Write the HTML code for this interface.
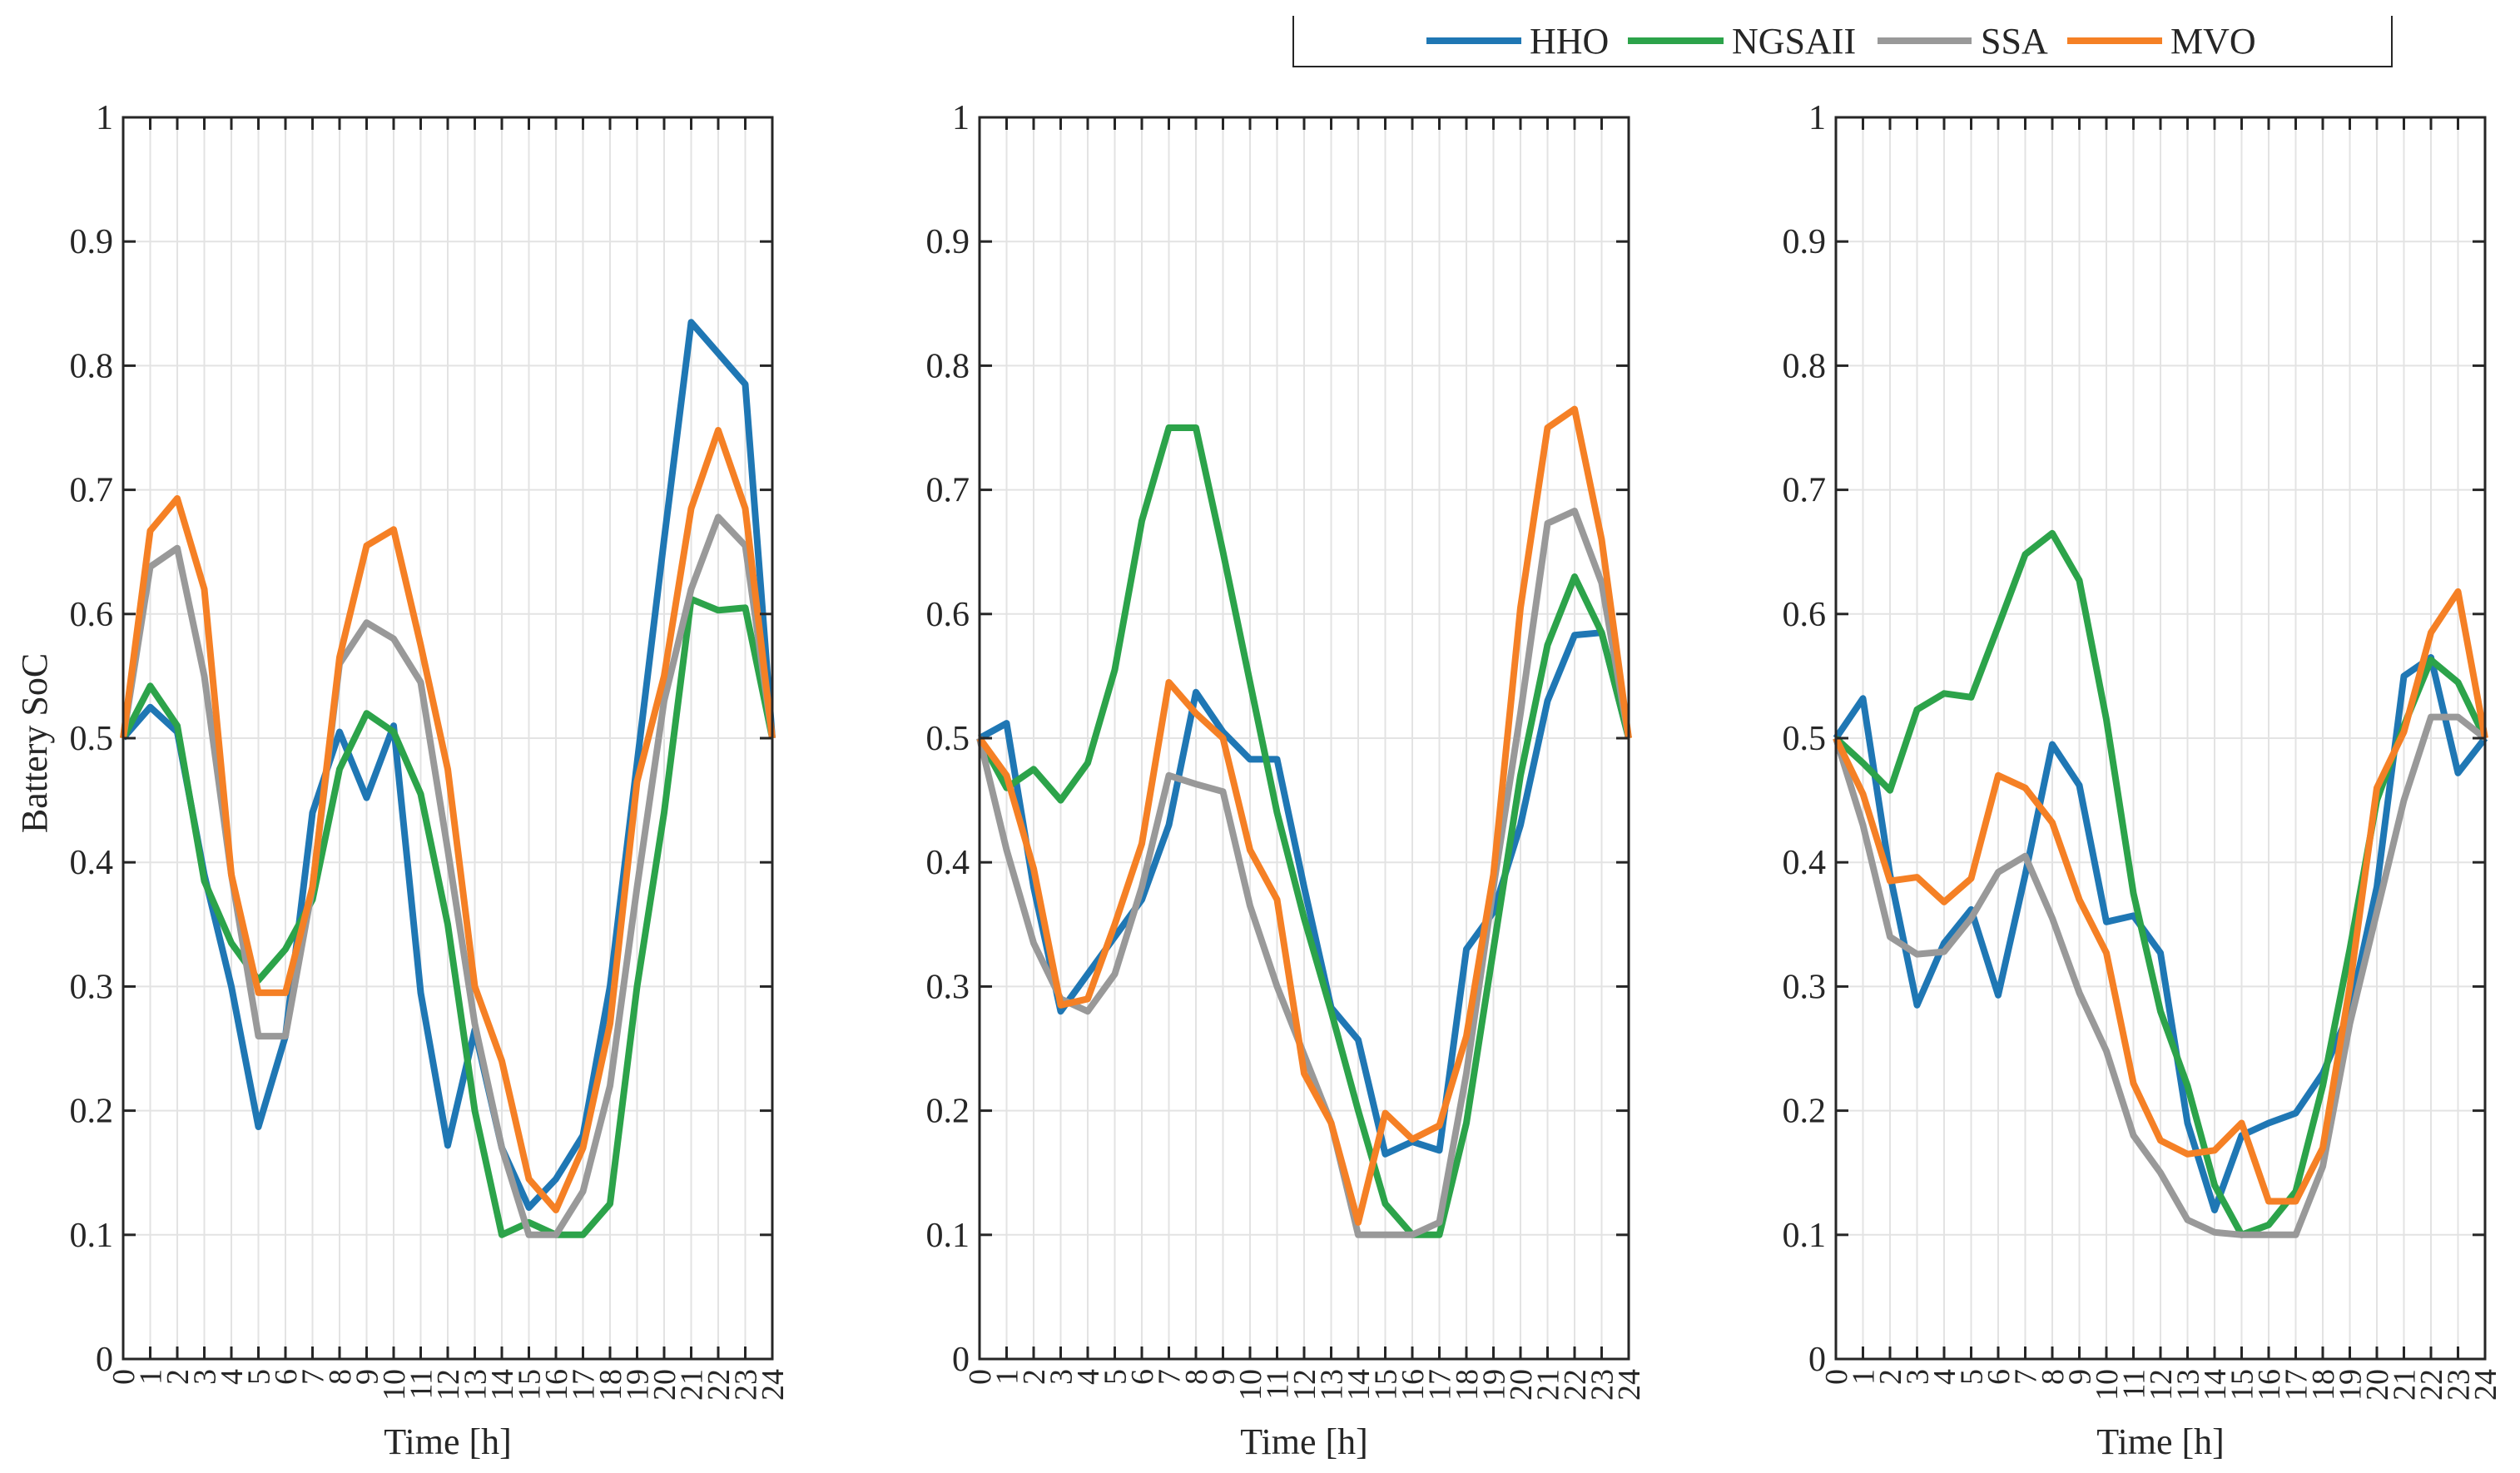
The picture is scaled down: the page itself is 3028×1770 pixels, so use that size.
<!DOCTYPE html>
<html><head><meta charset="utf-8"><style>
html,body{margin:0;padding:0;background:#fff;}
svg{display:block;font-family:"Liberation Serif",serif;}
</style></head><body>
<svg id="chart" width="3028" height="1770" viewBox="0 0 3028 1770" xmlns="http://www.w3.org/2000/svg">
<g>
<path d="M1554 19 L1554 80 L2874 80 L2874 19" fill="none" stroke="#262626" stroke-width="2"/>
<line x1="1714" y1="49" x2="1828" y2="49" stroke="#1f77b4" stroke-width="8"/>
<text x="1838" y="64" font-size="44" fill="#262626">HHO</text>
<line x1="1956" y1="49" x2="2071" y2="49" stroke="#2ca34a" stroke-width="8"/>
<text x="2081" y="64" font-size="44" fill="#262626">NGSAII</text>
<line x1="2256" y1="49" x2="2369" y2="49" stroke="#999999" stroke-width="8"/>
<text x="2380" y="64" font-size="44" fill="#262626">SSA</text>
<line x1="2484" y1="49" x2="2598" y2="49" stroke="#f58025" stroke-width="8"/>
<text x="2608" y="64" font-size="44" fill="#262626">MVO</text>
</g>
<text x="0" y="0" font-size="44" fill="#262626" text-anchor="middle" transform="translate(56 893) rotate(-90)">Battery SoC</text>
</svg>
<script>
const hours = [0,1,2,3,4,5,6,7,8,9,10,11,12,13,14,15,16,17,18,19,20,21,22,23,24];
const yTicks = [0,0.1,0.2,0.3,0.4,0.5,0.6,0.7,0.8,0.9,1];
const yTickLabels = ["0","0.1","0.2","0.3","0.4","0.5","0.6","0.7","0.8","0.9","1"];
const seriesNames = ["HHO","NGSAII","SSA","MVO"];
const seriesColors = ["#1f77b4","#2ca34a","#999999","#f58025"];
const p1HHO = [0.50,0.525,0.505,0.39,0.30,0.187,0.26,0.44,0.505,0.452,0.51,0.295,0.172,0.265,0.17,0.122,0.145,0.18,0.30,0.48,0.66,0.835,0.81,0.785,0.50];
const p1NGSAII = [0.50,0.542,0.51,0.385,0.335,0.305,0.33,0.37,0.475,0.52,0.505,0.455,0.35,0.20,0.10,0.11,0.10,0.10,0.125,0.30,0.44,0.612,0.603,0.605,0.50];
const p1SSA = [0.50,0.638,0.653,0.55,0.39,0.26,0.26,0.38,0.56,0.593,0.58,0.545,0.41,0.27,0.17,0.10,0.10,0.135,0.22,0.38,0.53,0.62,0.678,0.655,0.50];
const p1MVO = [0.50,0.667,0.693,0.62,0.39,0.295,0.295,0.38,0.565,0.655,0.668,0.575,0.475,0.30,0.24,0.145,0.12,0.17,0.27,0.465,0.55,0.685,0.748,0.685,0.50];
const p2HHO = [0.50,0.512,0.38,0.28,0.31,0.34,0.37,0.43,0.537,0.505,0.483,0.483,0.38,0.283,0.257,0.165,0.175,0.168,0.33,0.36,0.43,0.53,0.583,0.585,0.50];
const p2NGSAII = [0.50,0.46,0.475,0.45,0.48,0.555,0.675,0.75,0.75,0.65,0.545,0.44,0.355,0.28,0.20,0.125,0.10,0.10,0.19,0.33,0.47,0.575,0.63,0.585,0.50];
const p2SSA = [0.50,0.41,0.335,0.29,0.28,0.31,0.38,0.47,0.463,0.457,0.365,0.30,0.245,0.19,0.10,0.10,0.10,0.11,0.23,0.38,0.52,0.673,0.683,0.625,0.50];
const p2MVO = [0.50,0.47,0.395,0.285,0.29,0.35,0.415,0.545,0.52,0.50,0.41,0.37,0.23,0.19,0.11,0.198,0.177,0.188,0.26,0.39,0.605,0.75,0.765,0.66,0.50];
const p3HHO = [0.50,0.532,0.39,0.285,0.335,0.362,0.293,0.39,0.495,0.462,0.352,0.357,0.327,0.19,0.12,0.18,0.19,0.198,0.23,0.28,0.38,0.55,0.565,0.472,0.50];
const p3NGSAII = [0.50,0.48,0.458,0.523,0.536,0.533,0.59,0.648,0.665,0.627,0.515,0.375,0.28,0.22,0.14,0.10,0.108,0.135,0.22,0.33,0.45,0.51,0.563,0.545,0.50];
const p3SSA = [0.50,0.43,0.34,0.326,0.328,0.355,0.392,0.405,0.355,0.295,0.248,0.18,0.15,0.112,0.102,0.10,0.10,0.10,0.155,0.27,0.36,0.45,0.517,0.517,0.50];
const p3MVO = [0.50,0.455,0.385,0.388,0.368,0.387,0.47,0.46,0.432,0.37,0.327,0.222,0.176,0.165,0.168,0.19,0.127,0.127,0.17,0.30,0.46,0.505,0.585,0.618,0.50];

const NS = "http://www.w3.org/2000/svg";
const svg = document.getElementById('chart');
const panels = [
  {left:148, series:[p1HHO,p1NGSAII,p1SSA,p1MVO]},
  {left:1177, series:[p2HHO,p2NGSAII,p2SSA,p2MVO]},
  {left:2206, series:[p3HHO,p3NGSAII,p3SSA,p3MVO]}
];
const W = 780, TOP = 141, BOT = 1633;
function mk(tag, attrs, parent){
  const e = document.createElementNS(NS, tag);
  for (const k in attrs) e.setAttribute(k, attrs[k]);
  parent.appendChild(e);
  return e;
}
panels.forEach((p, pi) => {
  const xs = h => p.left + (h - hours[0]) / (hours[hours.length-1] - hours[0]) * W;
  const ys = v => BOT - v * (BOT - TOP);
  const g = mk('g', {}, svg);
  
  
  // grid
  hours.forEach(h => { const l = mk('line', {x1:xs(h), x2:xs(h), y1:TOP, y2:BOT, stroke:'#e3e3e3', 'stroke-width':2}, g);
    
     });
  yTicks.forEach(v => { const l = mk('line', {x1:p.left, x2:p.left+W, y1:ys(v), y2:ys(v), stroke:'#e3e3e3', 'stroke-width':2}, g);
    
     });
  // series
  p.series.forEach((vals, si) => {
    const d = vals.map((v, i) => (i ? 'L' : 'M') + xs(hours[i]).toFixed(1) + ' ' + ys(v).toFixed(1)).join(' ');
    const path = mk('path', {d:d, fill:'none', stroke:seriesColors[si], 'stroke-width':8, 'stroke-linejoin':'round'}, g);
    
    
  });
  // axes box
  const box = mk('rect', {x:p.left, y:TOP, width:W, height:BOT-TOP, fill:'none', stroke:'#262626', 'stroke-width':3}, g);
  
  
  // ticks
  hours.forEach((h, i) => {
    mk('line', {x1:xs(h), x2:xs(h), y1:BOT, y2:BOT-15, stroke:'#262626', 'stroke-width':3}, g);
    mk('line', {x1:xs(h), x2:xs(h), y1:TOP, y2:TOP+15, stroke:'#262626', 'stroke-width':3}, g);
    const t = mk('text', {transform:'translate(' + (xs(h)+13) + ' ' + (BOT+12) + ') rotate(-90)', 'text-anchor':'end', 'font-size':38, fill:'#262626'}, g);
    t.textContent = String(h);
    
    
  });
  yTicks.forEach((v, i) => {
    mk('line', {x1:p.left, x2:p.left+15, y1:ys(v), y2:ys(v), stroke:'#262626', 'stroke-width':3}, g);
    mk('line', {x1:p.left+W, x2:p.left+W-15, y1:ys(v), y2:ys(v), stroke:'#262626', 'stroke-width':3}, g);
    const t = mk('text', {x:p.left-12, y:ys(v)+14, 'text-anchor':'end', 'font-size':42, fill:'#262626'}, g);
    t.textContent = yTickLabels[i];
    
    
  });
  const xt = mk('text', {x:p.left+W/2, y:1747, 'text-anchor':'middle', 'font-size':44, fill:'#262626'}, g);
  xt.textContent = 'Time [h]';
  
  
});
</script>
</body></html>
